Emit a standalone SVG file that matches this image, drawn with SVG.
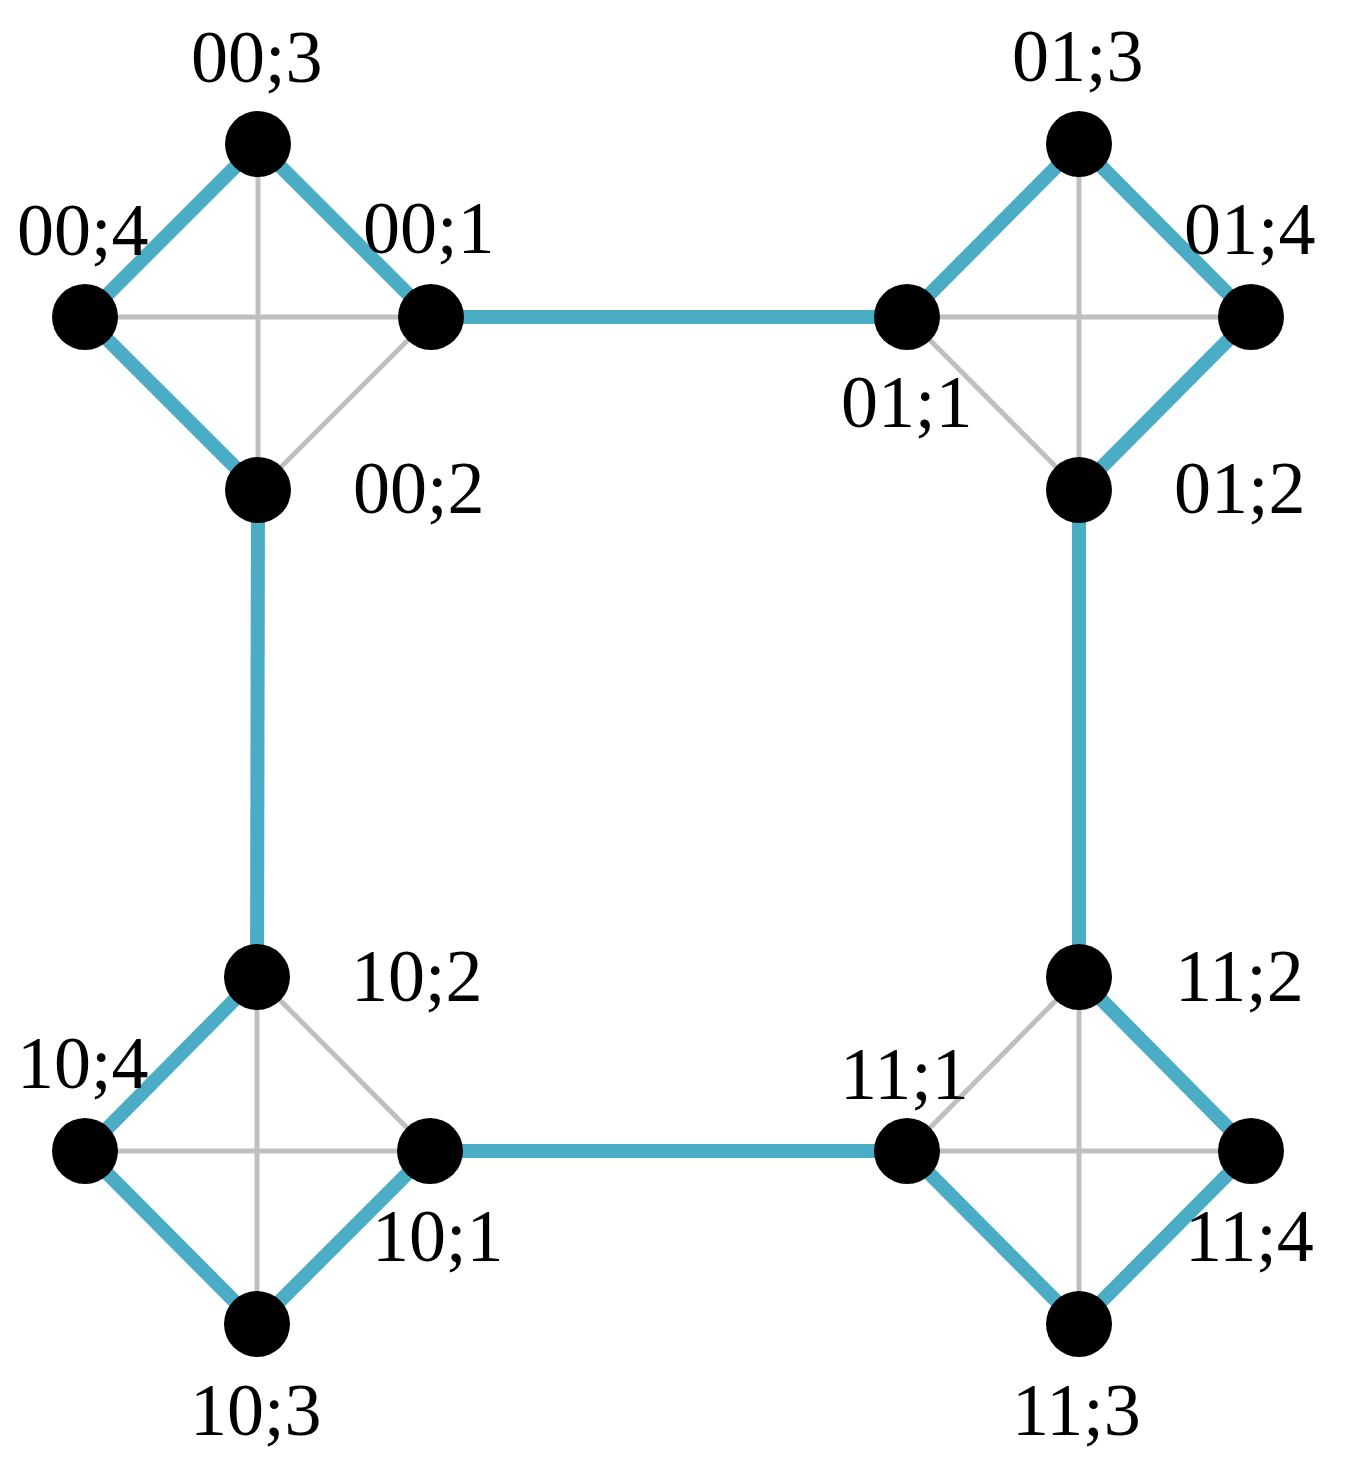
<svg xmlns="http://www.w3.org/2000/svg" width="1346" height="1463" viewBox="0 0 1346 1463">
<style>
.b{stroke:#4BACC6;stroke-width:14;fill:none}
.g{stroke:#BFBFBF;stroke-width:5;fill:none}
.n{fill:#000}
.t{font-family:"Liberation Serif","Times New Roman",serif;font-size:74px;fill:#000}
</style>
<rect width="1346" height="1463" fill="#fff"/>
<g id="connectors">
<!-- group 00 -->
<line class="g" x1="258" y1="144" x2="258" y2="490"/>
<line class="g" x1="85" y1="317" x2="431" y2="317"/>
<line class="g" x1="431" y1="317" x2="258" y2="490"/>
<line class="b" x1="258" y1="144" x2="85" y2="317"/>
<line class="b" x1="258" y1="144" x2="431" y2="317"/>
<line class="b" x1="85" y1="317" x2="258" y2="490"/>
<!-- group 01 -->
<line class="g" x1="1079" y1="144" x2="1079" y2="490"/>
<line class="g" x1="907" y1="317" x2="1251" y2="317"/>
<line class="g" x1="907" y1="317" x2="1079" y2="490"/>
<line class="b" x1="907" y1="317" x2="1079" y2="144"/>
<line class="b" x1="1079" y1="144" x2="1251" y2="317"/>
<line class="b" x1="1251" y1="317" x2="1079" y2="490"/>
<!-- group 10 -->
<line class="g" x1="257" y1="977" x2="257" y2="1324"/>
<line class="g" x1="85" y1="1151" x2="430" y2="1151"/>
<line class="g" x1="257" y1="977" x2="430" y2="1151"/>
<line class="b" x1="257" y1="977" x2="85" y2="1151"/>
<line class="b" x1="85" y1="1151" x2="257" y2="1324"/>
<line class="b" x1="257" y1="1324" x2="430" y2="1151"/>
<!-- group 11 -->
<line class="g" x1="1079" y1="977" x2="1079" y2="1324"/>
<line class="g" x1="907" y1="1151" x2="1251" y2="1151"/>
<line class="g" x1="907" y1="1151" x2="1079" y2="977"/>
<line class="b" x1="1079" y1="977" x2="1251" y2="1151"/>
<line class="b" x1="1251" y1="1151" x2="1079" y2="1324"/>
<line class="b" x1="1079" y1="1324" x2="907" y2="1151"/>
<!-- links between groups -->
<line class="b" x1="431" y1="317" x2="907" y2="317"/>
<line class="b" x1="258" y1="490" x2="257" y2="977"/>
<line class="b" x1="1079" y1="490" x2="1079" y2="977"/>
<line class="b" x1="430" y1="1151" x2="907" y2="1151"/>
</g>
<g id="n00_3"><circle class="n" cx="258" cy="144" r="33"/><text class="t" x="191" y="82">00;3</text></g>
<g id="n00_4"><circle class="n" cx="85" cy="317" r="33"/><text class="t" x="17" y="255">00;4</text></g>
<g id="n00_1"><circle class="n" cx="431" cy="317" r="33"/><text class="t" x="363" y="253">00;1</text></g>
<g id="n00_2"><circle class="n" cx="258" cy="490" r="33"/><text class="t" x="353" y="513">00;2</text></g>
<g id="n01_3"><circle class="n" cx="1079" cy="144" r="33"/><text class="t" x="1012" y="81">01;3</text></g>
<g id="n01_1"><circle class="n" cx="907" cy="317" r="33"/><text class="t" x="841" y="427">01;1</text></g>
<g id="n01_4"><circle class="n" cx="1251" cy="317" r="33"/><text class="t" x="1184" y="254">01;4</text></g>
<g id="n01_2"><circle class="n" cx="1079" cy="490" r="33"/><text class="t" x="1174" y="513">01;2</text></g>
<g id="n10_2"><circle class="n" cx="257" cy="977" r="33"/><text class="t" x="351" y="1001">10;2</text></g>
<g id="n10_4"><circle class="n" cx="85" cy="1151" r="33"/><text class="t" x="17" y="1088">10;4</text></g>
<g id="n10_1"><circle class="n" cx="430" cy="1151" r="33"/><text class="t" x="372" y="1261">10;1</text></g>
<g id="n10_3"><circle class="n" cx="257" cy="1324" r="33"/><text class="t" x="190" y="1435">10;3</text></g>
<g id="n11_2"><circle class="n" cx="1079" cy="977" r="33"/><text class="t" x="1175" y="1001">11;2</text></g>
<g id="n11_1"><circle class="n" cx="907" cy="1151" r="33"/><text class="t" x="840" y="1099">11;1</text></g>
<g id="n11_4"><circle class="n" cx="1251" cy="1151" r="33"/><text class="t" x="1185" y="1261">11;4</text></g>
<g id="n11_3"><circle class="n" cx="1079" cy="1324" r="33"/><text class="t" x="1012" y="1435">11;3</text></g>
</svg>
